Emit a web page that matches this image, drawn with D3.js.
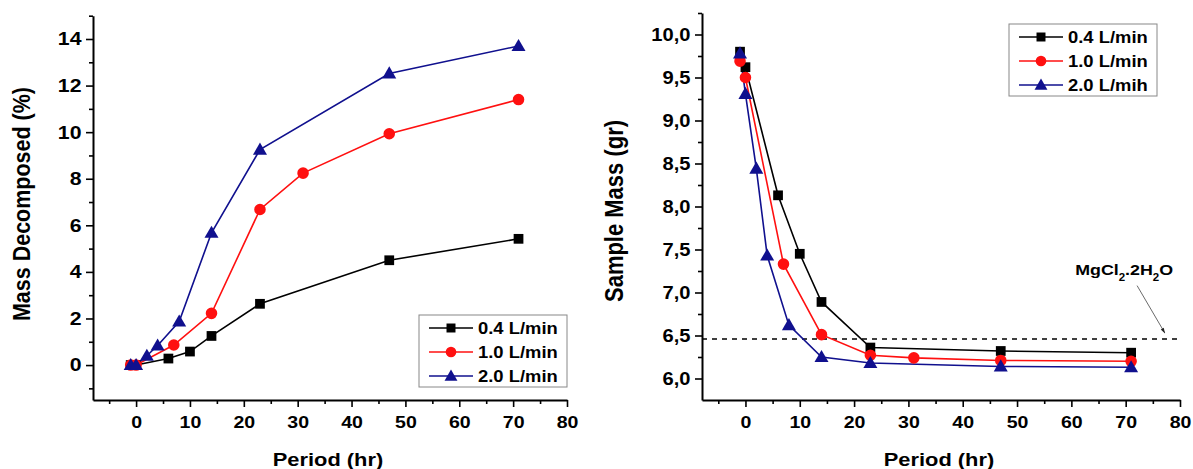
<!DOCTYPE html>
<html>
<head>
<meta charset="utf-8">
<script src="https://cdn.jsdelivr.net/npm/d3@7"></script>
<style>
  body { margin: 0; background: #fff; }
  svg { font-family: "Liberation Sans", Arial, sans-serif; font-weight: bold; }
</style>
</head>
<body>
<div id="chart"></div>
<script>
// DATA //

// Left panel: mass decomposed (%) vs period (hr)
const decompHours04 = [-1, 0, 6, 10, 14, 23, 47, 71];
const decompValues04 = [0, 0, 0.28, 0.58, 1.25, 2.63, 4.5, 5.42];
const decompHours10 = [-1, 0, 7, 14, 23, 31, 47, 71];
const decompValues10 = [0, 0, 0.86, 2.22, 6.68, 8.24, 9.93, 11.4];
const decompHours20 = [-1, 0, 2, 4, 8, 14, 23, 47, 71];
const decompValues20 = [0, 0, 0.4, 0.84, 1.87, 5.68, 9.25, 12.52, 13.7];

// Right panel: sample mass (gr) vs period (hr)
const massHours04 = [-1, 0, 6, 10, 14, 23, 47, 71];
const massValues04 = [9.8, 9.62, 8.13, 7.45, 6.89, 6.36, 6.32, 6.3];
const massHours10 = [-1, 0, 7, 14, 23, 31, 47, 71];
const massValues10 = [9.69, 9.5, 7.33, 6.51, 6.27, 6.24, 6.21, 6.2];
const massHours20 = [-1, 0, 2, 4, 8, 14, 23, 47, 71];
const massValues20 = [9.78, 9.31, 8.44, 7.43, 6.62, 6.25, 6.18, 6.14, 6.13];

const legendLeft = ["0.4 L/min", "1.0 L/min", "2.0 L/min"];
const legendRight = ["0.4 L/min", "1.0 L/min", "2.0 L/mih"];

const xTicks = [0, 10, 20, 30, 40, 50, 60, 70, 80];
const decompTicks = [0, 2, 4, 6, 8, 10, 12, 14];
const massTicks = [6.0, 6.5, 7.0, 7.5, 8.0, 8.5, 9.0, 9.5, 10.0];
const hydrateMass = 6.46;

// STYLES //

const colors = ["#000000", "#ff1010", "#10108e"];
const symbols = [d3.symbolSquare, d3.symbolCircle, d3.symbolTriangle];
const symbolSizes = [95, 105, 85];
// the source figure is stretched a bit horizontally
const stretch = 1.15;

const svg = d3
  .select("#chart")
  .append("svg")
  .attr("width", 1193)
  .attr("height", 469);

// Zip hours/values into point objects
function zip(hours, values) {
  return hours.map((h, i) => ({ x: h, y: values[i] }));
}

function drawPanel(cfg) {
  const x = d3.scaleLinear().domain([-8, 80]).range(cfg.xRange);
  const y = d3.scaleLinear().domain(cfg.yDomain).range(cfg.yRange);
  const g = svg.append("g");

  // minor ticks
  g.append("g")
    .attr("transform", `translate(0,${cfg.yRange[0]})`)
    .call(d3.axisBottom(x).tickValues(d3.range(-5, 80, 10)).tickSize(4).tickFormat(""))
    .call((a) => a.select(".domain").remove());
  g.append("g")
    .attr("transform", `translate(${cfg.xRange[0]},0)`)
    .call(d3.axisLeft(y).tickValues(cfg.minorTicks).tickSize(4).tickFormat(""))
    .call((a) => a.select(".domain").remove());

  // major axes
  const xAxis = g
    .append("g")
    .attr("transform", `translate(0,${cfg.yRange[0]})`)
    .call(d3.axisBottom(x).tickValues(xTicks).tickSize(7).tickSizeOuter(0).tickPadding(9));
  const yAxis = g
    .append("g")
    .attr("transform", `translate(${cfg.xRange[0]},0)`)
    .call(d3.axisLeft(y).tickValues(cfg.yTicks).tickSize(7).tickSizeOuter(0).tickPadding(3).tickFormat(cfg.format));

  g.selectAll(".tick line").attr("stroke", "#000").attr("stroke-width", 1.6);
  g.selectAll(".domain").attr("stroke", "#000").attr("stroke-width", 2);
  xAxis.selectAll("text").attr("font-size", 17);
  yAxis.selectAll("text").attr("font-size", cfg.yTickSize);
  [xAxis, yAxis].forEach((a) =>
    a.selectAll("text")
      .attr("font-family", "Liberation Sans, Arial")
      .attr("font-weight", "bold")
      .attr("fill", "#000")
      .attr("transform", `scale(${stretch},1)`)
  );

  // axis titles
  g.append("text")
    .attr("transform", `translate(${d3.mean(cfg.xRange) - 2},466) scale(${stretch},1)`)
    .attr("text-anchor", "middle")
    .attr("font-size", 19)
    .text("Period (hr)");
  g.append("text")
    .attr("transform", `translate(${cfg.yLabelPos[0]},${cfg.yLabelPos[1]}) rotate(-90) scale(1,${stretch})`)
    .attr("text-anchor", "middle")
    .attr("font-size", cfg.yLabelSize)
    .text(cfg.yLabel);

  // reference line (right panel only)
  if (cfg.refLine) cfg.refLine(g, x, y);

  // series
  const line = d3.line().x((d) => x(d.x)).y((d) => y(d.y));
  cfg.series.forEach((s, i) => {
    g.append("path")
      .datum(s)
      .attr("fill", "none")
      .attr("stroke", colors[i])
      .attr("stroke-width", 1.6)
      .attr("d", line);
  });
  cfg.series.forEach((s, i) => {
    g.selectAll(null)
      .data(s)
      .join("path")
      .attr("transform", (d) => `translate(${x(d.x)},${y(d.y) + (i === 2 ? 1 : 0)})`)
      .attr("d", d3.symbol(symbols[i], symbolSizes[i]))
      .attr("fill", colors[i]);
  });

  // legend
  const lg = g.append("g").attr("transform", `translate(${cfg.legendPos[0]},${cfg.legendPos[1]})`);
  lg.append("rect")
    .attr("width", 148)
    .attr("height", 72)
    .attr("fill", "#fff")
    .attr("stroke", "#888")
    .attr("stroke-width", 1);
  cfg.legend.forEach((label, i) => {
    const row = lg.append("g").attr("transform", `translate(0,${13 + i * 24})`);
    row.append("line")
      .attr("x1", 10)
      .attr("x2", 54)
      .attr("stroke", colors[i])
      .attr("stroke-width", 1.6);
    row.append("path")
      .attr("transform", `translate(32,${i === 2 ? 1 : 0})`)
      .attr("d", d3.symbol(symbols[i], symbolSizes[i] * 0.85))
      .attr("fill", colors[i]);
    row.append("text")
      .attr("transform", `translate(59,6) scale(${stretch},1)`)
      .attr("font-size", 16)
      .text(label);
  });
}

// LEFT PANEL //
drawPanel({
  xRange: [93, 567],
  yDomain: [-1.5, 15],
  yRange: [400, 15.7],
  yTicks: decompTicks,
  minorTicks: d3.range(-1, 16, 2),
  format: d3.format("d"),
  yTickSize: 18.5,
  yLabel: "Mass Decomposed (%)",
  yLabelSize: 21.5,
  yLabelPos: [30, 204],
  series: [zip(decompHours04, decompValues04), zip(decompHours10, decompValues10), zip(decompHours20, decompValues20)],
  legend: legendLeft,
  legendPos: [419, 315],
});

// RIGHT PANEL //
drawPanel({
  xRange: [702, 1180],
  yDomain: [5.75, 10.25],
  yRange: [400, 13],
  yTicks: massTicks,
  minorTicks: d3.range(6.25, 10.3, 0.5),
  format: (d) => d3.format(".1f")(d).replace(".", ","),
  yTickSize: 17.5,
  yLabel: "Sample Mass (gr)",
  yLabelSize: 22,
  yLabelPos: [623, 211],
  series: [zip(massHours04, massValues04), zip(massHours10, massValues10), zip(massHours20, massValues20)],
  legend: legendRight,
  legendPos: [1009, 24],
  refLine: (g, x, y) => {
    g.append("line")
      .attr("x1", x(-8))
      .attr("x2", x(80))
      .attr("y1", y(hydrateMass))
      .attr("y2", y(hydrateMass))
      .attr("stroke", "#000")
      .attr("stroke-width", 1.4)
      .attr("stroke-dasharray", "5,5");
    // annotation arrow
    svg.append("defs")
      .append("marker")
      .attr("id", "arrow")
      .attr("viewBox", "0 0 10 10")
      .attr("refX", 9)
      .attr("refY", 5)
      .attr("markerWidth", 9)
      .attr("markerHeight", 7)
      .attr("orient", "auto")
      .append("path")
      .attr("d", "M0,2 L10,5 L0,8 Z")
      .attr("fill", "#222");
    g.append("line")
      .attr("x1", x(72.1))
      .attr("y1", y(7.08))
      .attr("x2", x(77.2))
      .attr("y2", y(6.53))
      .attr("stroke", "#444")
      .attr("stroke-width", 0.8)
      .attr("marker-end", "url(#arrow)");
    const t = g.append("text")
      .attr("transform", `translate(${x(60.7)},${y(7.2)}) scale(${stretch},1)`)
      .attr("font-size", 15.5);
    t.append("tspan").text("MgCl");
    t.append("tspan").attr("font-size", 10).attr("dy", 6).text("2");
    t.append("tspan").attr("dy", -6).text(".2H");
    t.append("tspan").attr("font-size", 10).attr("dy", 6).text("2");
    t.append("tspan").attr("dy", -6).text("O");
  },
});
</script>
</body>
</html>
